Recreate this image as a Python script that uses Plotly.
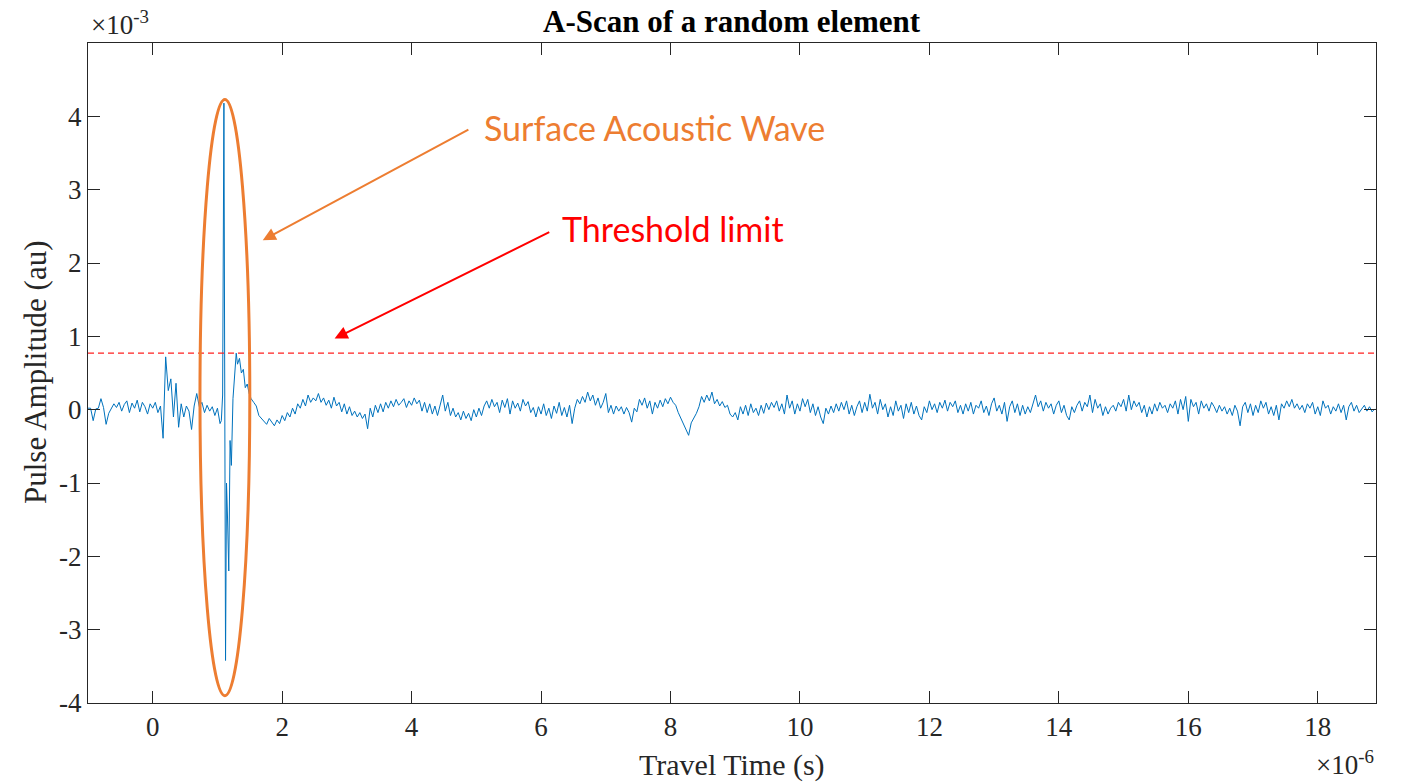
import numpy as np
import plotly.graph_objects as go

# ---------------- data (time in µs -> shown as ×10^-6 s, amplitude shown as ×10^-3 au) -------------
SAMPLE_STEP = 0.04          # µs, uniform sampling of the quiet parts
SEG_A_START = -1.00         # µs
SEG_B_START = 1.52          # µs

# quiet part before the surface wave (t = -1.00 ... 1.04 µs)
amp_seg_a = [
    0.02, 0.02, -0.15, 0.01, 0.02, 0.15, 0.03, -0.20, -0.05, 0.02,
    0.08, 0.03, 0.10, -0.02, 0.07, 0.12, -0.04, 0.09, 0.02, 0.13,
    -0.03, 0.10, 0.04, -0.06, 0.08, 0.02, 0.10, -0.04, 0.05, -0.39,
    0.72, 0.26, 0.42, -0.10, 0.36, -0.24, 0.08, -0.10, 0.05, -0.02,
    -0.27, 0.05, 0.22, 0.04, 0.10, -0.04, 0.06, -0.02, 0.04, -0.08,
    0.02, -0.19,
]

# surface acoustic wave burst (densely sampled)
time_burst = [1.06, 1.08, 1.10, 1.125, 1.14, 1.155, 1.175, 1.195, 1.215, 1.24,
              1.27, 1.29, 1.31, 1.34, 1.37, 1.40, 1.43, 1.46, 1.49]
amp_burst = [-0.15, 0.20, 4.18, -3.42, -1.00, -1.45, -2.20, -0.42, -0.76, 0.15,
             0.55, 0.77, 0.62, 0.70, 0.50, 0.55, 0.30, 0.35, 0.22]

# remaining record (t = 1.52 ... 18.88 µs)
amp_seg_b = [
    0.15, 0.10, 0.05, -0.08, -0.12, -0.16, -0.20, -0.12, -0.18, -0.22, -0.14, -0.19, -0.08, -0.15, -0.04, -0.10, 0.02, -0.06, 0.08, 0.02, 0.14, 0.05, 0.20, 0.10, 0.16,
    0.12, 0.22, 0.10, 0.16, 0.06, 0.13, 0.02, 0.17, 0.05, 0.10, -0.03, 0.08, -0.06, 0.04, -0.08, -0.02, -0.10, -0.04, -0.12, -0.06, -0.26, 0.02, -0.10, 0.06, -0.04,
    0.08, -0.03, 0.10, 0.02, 0.12, 0.04, 0.14, 0.06, 0.10, 0.15, 0.03, 0.12, 0.06, 0.16, 0.08, 0.13, -0.02, 0.10, -0.04, 0.08, -0.06, 0.05, -0.08, 0.06, 0.20,
    -0.02, 0.10, -0.08, 0.02, -0.10, -0.04, -0.14, -0.02, -0.12, -0.05, -0.15, 0.00, -0.10, 0.02, -0.08, 0.05, 0.12, 0.02, 0.14, 0.04, 0.10, -0.04, 0.13, 0.03, 0.15,
    -0.06, 0.12, 0.02, 0.09, -0.02, 0.14, 0.05, 0.11, -0.04, 0.03, -0.10, 0.04, -0.06, 0.08, -0.08, 0.02, -0.12, 0.05, -0.05, 0.10, -0.08, 0.03, -0.10, 0.06, -0.19,
    0.02, 0.14, 0.08, 0.18, 0.10, 0.24, 0.12, 0.20, 0.06, 0.16, 0.02, 0.10, 0.22, -0.04, 0.06, -0.06, 0.05, -0.02, 0.04, -0.06, 0.03, -0.04, -0.17, 0.02, -0.03,
    0.14, 0.06, 0.16, 0.02, 0.12, -0.06, 0.10, 0.02, 0.13, 0.04, 0.15, 0.08, 0.17, 0.10, 0.06, -0.04, -0.12, -0.18, -0.28, -0.35, -0.18, -0.12, -0.05, 0.04, 0.18,
    0.10, 0.20, 0.12, 0.24, 0.08, 0.14, 0.05, 0.11, 0.03, 0.06, -0.06, -0.10, -0.04, -0.14, 0.04, -0.06, 0.06, -0.08, 0.08, -0.04, 0.02, -0.08, 0.06, -0.05, 0.09,
    0.00, 0.10, 0.03, 0.12, -0.02, 0.08, -0.06, 0.20, 0.02, 0.12, -0.06, 0.08, -0.02, 0.15, 0.04, 0.14, -0.04, 0.08, -0.08, 0.04, -0.10, -0.19, 0.02, -0.06, 0.05,
    -0.04, 0.08, -0.02, 0.10, 0.00, 0.12, -0.06, 0.06, -0.08, 0.04, 0.12, -0.04, 0.10, -0.02, 0.21, 0.02, 0.10, -0.06, 0.14, 0.00, 0.08, -0.10, 0.04, -0.08, 0.12,
    -0.02, 0.06, -0.12, 0.08, -0.04, 0.10, -0.06, 0.05, -0.08, -0.14, 0.04, -0.04, 0.12, 0.00, 0.08, -0.04, 0.10, 0.02, 0.13, -0.02, 0.10, 0.04, 0.12, -0.04, 0.06,
    -0.06, 0.08, -0.02, 0.10, -0.06, 0.06, 0.02, 0.12, -0.04, 0.05, -0.08, 0.08, 0.16, -0.02, 0.06, -0.06, 0.10, -0.16, 0.04, 0.12, -0.04, 0.08, -0.08, 0.06, -0.06,
    0.04, -0.04, 0.10, 0.20, 0.04, 0.12, -0.02, 0.10, 0.02, 0.08, -0.06, 0.06, 0.12, -0.04, 0.06, -0.08, -0.14, 0.04, -0.04, 0.06, 0.12, -0.02, 0.10, 0.04, 0.20,
    -0.04, 0.14, 0.02, 0.08, -0.08, 0.04, -0.06, 0.02, 0.06, -0.02, 0.10, 0.04, 0.14, -0.02, 0.20, 0.00, 0.12, 0.04, 0.10, -0.04, 0.06, -0.10, 0.04, -0.06, 0.08,
    -0.02, 0.10, 0.02, 0.06, -0.04, 0.08, 0.02, 0.12, -0.06, 0.14, 0.00, 0.18, -0.16, 0.14, 0.04, 0.10, -0.06, 0.12, 0.02, 0.08, -0.02, 0.10, 0.04, -0.04, 0.06,
    -0.02, 0.04, -0.06, 0.02, -0.08, 0.06, -0.02, -0.22, 0.04, 0.10, -0.04, 0.08, -0.08, 0.06, -0.04, 0.12, 0.02, 0.10, -0.06, 0.04, -0.08, 0.06, -0.14, 0.08, 0.02,
    0.12, 0.04, 0.14, 0.02, 0.08, 0.00, 0.06, -0.04, 0.08, 0.02, 0.10, -0.06, 0.04, -0.08, 0.12, 0.02, 0.06, -0.06, 0.04, -0.02, 0.08, -0.04, 0.06, -0.14, 0.04,
    0.10, -0.02, 0.06, -0.04, 0.02, 0.06, -0.02, 0.04, -0.03, 0.01,
]

threshold_level = 0.77                     # ×10^-3
ellipse_t = [0.73, 1.50]                   # µs, surface wave marker extent
ellipse_amp = [-3.90, 4.23]                # ×10^-3

x_range = [-1.0, 18.9]
y_range = [-4.0, 5.0]
x_tick_vals = [0, 2, 4, 6, 8, 10, 12, 14, 16, 18]
y_tick_vals = [-4, -3, -2, -1, 0, 1, 2, 3, 4]
y_tick_text = ["-4", "-3", "-2", "-1", "0", "1", "2", "3", "4"]

# annotation anchors (data units)
saw_arrow_head = (1.70, 2.31)
saw_arrow_tail = (4.90, 3.83)
saw_text_pos = (5.08, 3.85)
thr_arrow_head = (2.81, 0.97)
thr_arrow_tail = (6.15, 2.43)
thr_text_pos = (6.30, 2.47)

# ---------------- build series ----------------
time_a = SEG_A_START + SAMPLE_STEP * np.arange(len(amp_seg_a))
time_b = SEG_B_START + SAMPLE_STEP * np.arange(len(amp_seg_b))
time_all = np.concatenate([time_a, np.array(time_burst), time_b])
amp_all = np.concatenate([np.array(amp_seg_a), np.array(amp_burst), np.array(amp_seg_b)])

SERIF = "Liberation Serif, Times New Roman, serif"
SANS = "Lato, Open Sans, sans-serif"
AXIS_COLOR = "#262626"
ORANGE = "#ED7D31"

fig = go.Figure()
fig.add_trace(go.Scatter(x=time_all, y=amp_all, mode="lines",
                         line=dict(color="#0072BD", width=1), showlegend=False,
                         hoverinfo="skip"))
fig.add_trace(go.Scatter(x=x_range, y=[threshold_level, threshold_level], mode="lines",
                         line=dict(color="#FF2020", width=1.3, dash="6px,4px"),
                         showlegend=False, hoverinfo="skip"))

fig.add_shape(type="circle", xref="x", yref="y",
              x0=ellipse_t[0], x1=ellipse_t[1], y0=ellipse_amp[0], y1=ellipse_amp[1],
              line=dict(color=ORANGE, width=3))

annotations = [
    # arrows
    dict(x=saw_arrow_head[0], y=saw_arrow_head[1], ax=saw_arrow_tail[0], ay=saw_arrow_tail[1],
         xref="x", yref="y", axref="x", ayref="y", text="", showarrow=True,
         arrowhead=2, arrowsize=1.3, arrowwidth=2, arrowcolor=ORANGE),
    dict(x=thr_arrow_head[0], y=thr_arrow_head[1], ax=thr_arrow_tail[0], ay=thr_arrow_tail[1],
         xref="x", yref="y", axref="x", ayref="y", text="", showarrow=True,
         arrowhead=2, arrowsize=1.3, arrowwidth=2, arrowcolor="#FF0000"),
    # texts
    dict(x=saw_text_pos[0], y=saw_text_pos[1], xref="x", yref="y", text="Surface Acoustic Wave",
         showarrow=False, xanchor="left", yanchor="middle",
         font=dict(family=SANS, size=34, color=ORANGE)),
    dict(x=thr_text_pos[0], y=thr_text_pos[1], xref="x", yref="y", text="Threshold limit",
         showarrow=False, xanchor="left", yanchor="middle",
         font=dict(family=SANS, size=34, color="#FF0000")),
    # title
    dict(x=0.5, y=1, xref="paper", yref="paper", yshift=22, text="<b>A-Scan of a random element</b>",
         showarrow=False, xanchor="center", yanchor="middle",
         font=dict(family=SERIF, size=31, color="#000000")),
    # axis titles
    dict(x=0.5, y=0, xref="paper", yref="paper", yshift=-62, text="Travel Time (s)",
         showarrow=False, xanchor="center", yanchor="middle",
         font=dict(family=SERIF, size=30, color=AXIS_COLOR)),
    dict(x=0, y=0.5, xref="paper", yref="paper", xshift=-53, text="Pulse Amplitude (au)",
         showarrow=False, xanchor="center", yanchor="middle", textangle=-90,
         font=dict(family=SERIF, size=31, color=AXIS_COLOR)),
    # exponent labels
    dict(x=0, y=1, xref="paper", yref="paper", xshift=1, yshift=1, text="×10<sup>-3</sup>",
         showarrow=False, xanchor="left", yanchor="bottom",
         font=dict(family=SERIF, size=27, color=AXIS_COLOR)),
    dict(x=1, y=0, xref="paper", yref="paper", yshift=-79, text="×10<sup>-6</sup>",
         showarrow=False, xanchor="right", yanchor="bottom",
         font=dict(family=SERIF, size=27, color=AXIS_COLOR)),
]

fig.update_layout(
    width=1401, height=784,
    margin=dict(l=88, r=25, t=43, b=81),
    paper_bgcolor="white", plot_bgcolor="white",
    annotations=annotations,
    showlegend=False,
)
fig.update_xaxes(range=x_range, tickvals=x_tick_vals, ticks="inside", ticklen=12, tickwidth=1,
                 tickcolor=AXIS_COLOR, showline=True, linecolor=AXIS_COLOR, linewidth=1,
                 mirror="ticks", showgrid=False, zeroline=False,
                 tickfont=dict(family=SERIF, size=27, color=AXIS_COLOR))
fig.update_yaxes(range=y_range, tickvals=y_tick_vals, ticktext=y_tick_text, ticks="inside",
                 ticklen=12, tickwidth=1, tickcolor=AXIS_COLOR, showline=True,
                 linecolor=AXIS_COLOR, linewidth=1, mirror="ticks", showgrid=False,
                 zeroline=False, tickfont=dict(family=SERIF, size=27, color=AXIS_COLOR))

fig.write_html("out.html")
